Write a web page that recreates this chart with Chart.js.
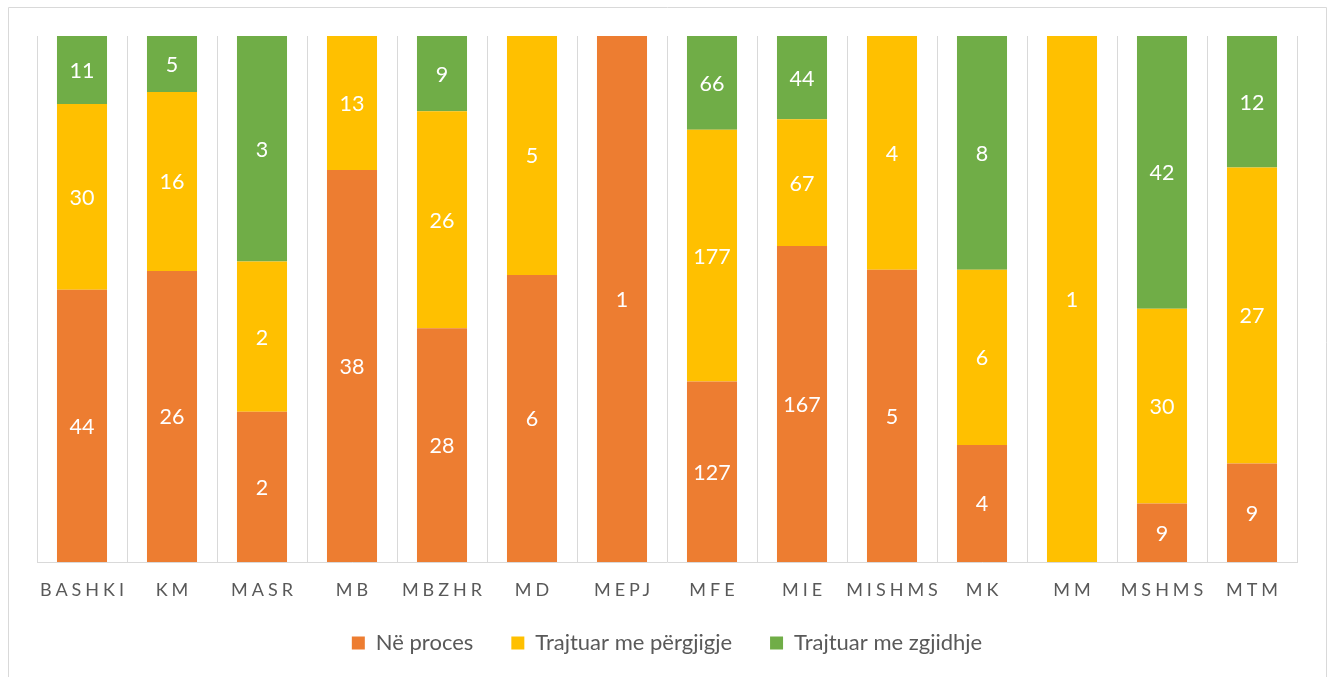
<!DOCTYPE html>
<html>
<head>
<meta charset="utf-8">
<script src="https://cdn.jsdelivr.net/npm/chart.js@4/dist/chart.umd.min.js"></script>
<style>
html,body{margin:0;padding:0;background:#fff;}
#wrap{width:1328px;height:677px;position:relative;}
</style>
</head>
<body>
<div id="wrap"><canvas id="c" width="1328" height="677"></canvas></div>
<script>
const categories = ["BASHKI","KM","MASR","MB","MBZHR","MD","MEPJ","MFE","MIE","MISHMS","MK","MM","MSHMS","MTM"];
const seriesNames = ["Në proces","Trajtuar me përgjigje","Trajtuar me zgjidhje"];
const neProces      = [44, 26, 2, 38, 28, 6, 1, 127, 167, 5, 4, 0, 9, 9];
const mePergjigje   = [30, 16, 2, 13, 26, 5, 0, 177, 67, 4, 6, 1, 30, 27];
const meZgjidhje    = [11, 5, 3, 0, 9, 0, 0, 66, 44, 0, 8, 0, 42, 12];
const colors = ["#ED7D31","#FFC000","#70AD47"];

const counts = [neProces, mePergjigje, meZgjidhje];
const totals = categories.map((_, i) => counts.reduce((s, a) => s + a[i], 0));
const pct = counts.map(a => a.map((v, i) => totals[i] ? v / totals[i] * 100 : 0));

const FONT = "Lato, 'Open Sans', sans-serif";

const framePlugin = {
  id: 'frame',
  beforeDraw(chart) {
    const ctx = chart.ctx;
    ctx.save();
    ctx.strokeStyle = '#D9D9D9';
    ctx.lineWidth = 1;
    ctx.beginPath();
    ctx.moveTo(8.5, 680);
    ctx.lineTo(8.5, 7.5);
    ctx.lineTo(1326.5, 7.5);
    ctx.lineTo(1326.5, 680);
    ctx.stroke();
    ctx.restore();
    const s = chart.scales.x;
    if (s && !s._lsPatched) {
      const orig = s.drawLabels;
      s._computeLabelArea = function () { return undefined; };
      s.drawLabels = function (a) {
        const c = this.ctx;
        c.save();
        c.letterSpacing = '4px';
        c.translate(2, 0);
        orig.call(this, a);
        c.restore();
      };
      s._lsPatched = true;
    }
  }
};

const labelPlugin = {
  id: 'vlabels',
  afterDatasetsDraw(chart) {
    const ctx = chart.ctx;
    ctx.save();
    ctx.fillStyle = '#FFFFFF';
    ctx.font = "21.5px " + FONT;
    ctx.textAlign = 'center';
    ctx.textBaseline = 'middle';
    chart.data.datasets.forEach((ds, di) => {
      const meta = chart.getDatasetMeta(di);
      meta.data.forEach((el, i) => {
        const v = counts[di][i];
        if (!v) return;
        const y = (el.y + el.base) / 2;
        ctx.fillText(String(v), el.x, y + 1);
      });
    });
    ctx.restore();
  }
};

new Chart(document.getElementById('c'), {
  type: 'bar',
  data: {
    labels: categories,
    datasets: seriesNames.map((n, k) => ({
      label: n,
      data: pct[k],
      backgroundColor: colors[k],
      borderWidth: 0,
      barPercentage: 0.556,
      categoryPercentage: 1.0
    }))
  },
  options: {
    responsive: false,
    animation: false,
    layout: { padding: { left: 37, right: 31, top: 36, bottom: 13 } },
    plugins: {
      tooltip: { enabled: false },
      legend: {
        position: 'bottom',
        labels: {
          boxWidth: 13, boxHeight: 13,
          padding: 38,
          color: '#595959',
          font: { family: FONT, size: 22 }
        }
      }
    },
    scales: {
      x: {
        stacked: true,
        offset: true,
        afterFit(s) { s.height = 32; },
        grid: { display: true, offset: true, color: '#D9D9D9', lineWidth: 1, drawTicks: false },
        border: { display: true, color: '#D9D9D9', width: 1 },
        ticks: { color: '#595959', font: { family: FONT, size: 18 }, padding: 17, maxRotation: 0, autoSkip: false }
      },
      y: {
        stacked: true,
        display: false,
        min: 0, max: 100
      }
    }
  },
  plugins: [framePlugin, labelPlugin]
});
</script>
</body>
</html>
